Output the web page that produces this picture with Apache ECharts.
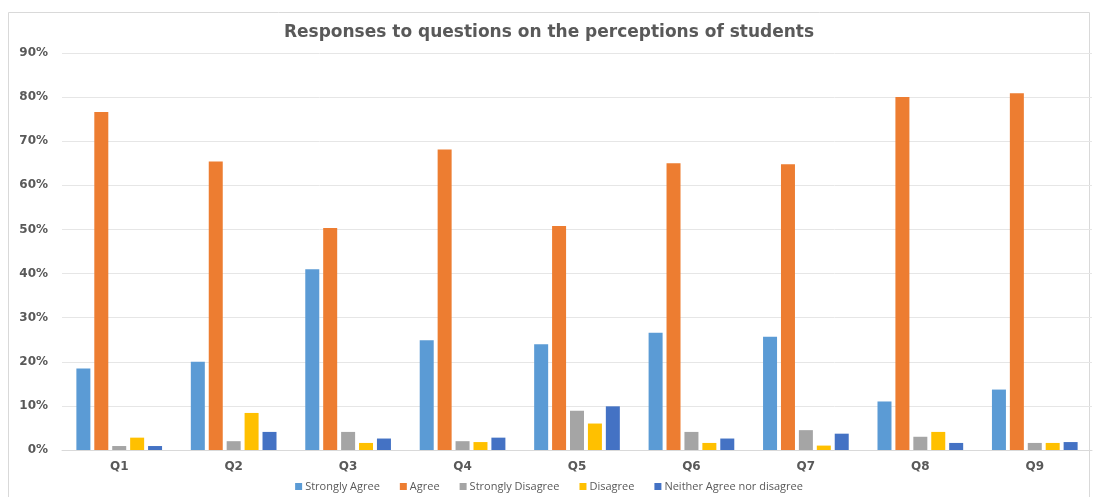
<!DOCTYPE html>
<html>
<head>
<meta charset="utf-8">
<script src="https://cdn.jsdelivr.net/npm/echarts@6/dist/echarts.min.js"></script>
<style>
  html, body { margin: 0; padding: 0; background: #fff; }
  #main { width: 1098px; height: 497px; }
</style>
</head>
<body>
<div id="main"></div>
<script>
// values, in percent
var questions = ['Q1', 'Q2', 'Q3', 'Q4', 'Q5', 'Q6', 'Q7', 'Q8', 'Q9'];
var stronglyAgree = [18.5, 20.0, 41.0, 24.9, 24.0, 26.6, 25.7, 11.0, 13.7];
var agree = [76.6, 65.4, 50.3, 68.1, 50.8, 65.0, 64.8, 80.0, 80.9];
var stronglyDisagree = [0.9, 2.0, 4.1, 2.0, 8.9, 4.1, 4.5, 3.0, 1.6];
var disagree = [2.8, 8.4, 1.6, 1.8, 6.0, 1.6, 1.0, 4.1, 1.6];
var neither = [0.9, 4.1, 2.6, 2.8, 9.9, 2.6, 3.7, 1.6, 1.8];

var chart = echarts.init(document.getElementById('main'));
var wide = 'DejaVu Sans, Verdana, sans-serif';

function bar(name, data, color) {
  return {
    name: name,
    type: 'bar',
    data: data,
    barWidth: 14,
    barGap: '28%',
    itemStyle: { color: color },
    emphasis: { disabled: true }
  };
}

chart.setOption({
  animation: false,
  textStyle: { fontFamily: 'Open Sans, Liberation Sans, sans-serif' },
  graphic: [{
    type: 'rect',
    shape: { x: 8.5, y: 12.5, width: 1081, height: 490 },
    style: { fill: 'none', stroke: '#d9d9d9', lineWidth: 1 },
    silent: true
  }],
  title: {
    text: 'Responses to questions on the perceptions of students',
    left: 'center',
    top: 19,
    textStyle: { fontSize: 17, fontWeight: 'bold', color: '#595959', fontFamily: wide }
  },
  legend: {
    bottom: 0,
    left: 'center',
    itemWidth: 7,
    itemHeight: 7,
    itemGap: 20,
    icon: 'rect',
    textStyle: { fontSize: 11, color: '#595959', padding: [0, 0, 0, -2] },
    data: ['Strongly Agree', 'Agree', 'Strongly Disagree', 'Disagree', 'Neither Agree nor disagree']
  },
  grid: { left: 62, right: 6, top: 53, bottom: 47 },
  xAxis: {
    type: 'category',
    data: questions,
    axisLine: { lineStyle: { color: '#d9d9d9' } },
    axisTick: { show: false },
    axisLabel: { fontSize: 12, fontWeight: 'bold', color: '#595959', margin: 11, fontFamily: wide }
  },
  yAxis: {
    type: 'value',
    min: 0,
    max: 90,
    interval: 10,
    axisLabel: { formatter: '{value}%', fontSize: 12, fontWeight: 'bold', color: '#595959', margin: 14, fontFamily: wide },
    splitLine: { lineStyle: { color: '#e6e6e6' } },
    axisLine: { show: false },
    axisTick: { show: false }
  },
  series: [
    bar('Strongly Agree', stronglyAgree, '#5B9BD5'),
    bar('Agree', agree, '#ED7D31'),
    bar('Strongly Disagree', stronglyDisagree, '#A5A5A5'),
    bar('Disagree', disagree, '#FFC000'),
    bar('Neither Agree nor disagree', neither, '#4472C4')
  ]
});
</script>
</body>
</html>
